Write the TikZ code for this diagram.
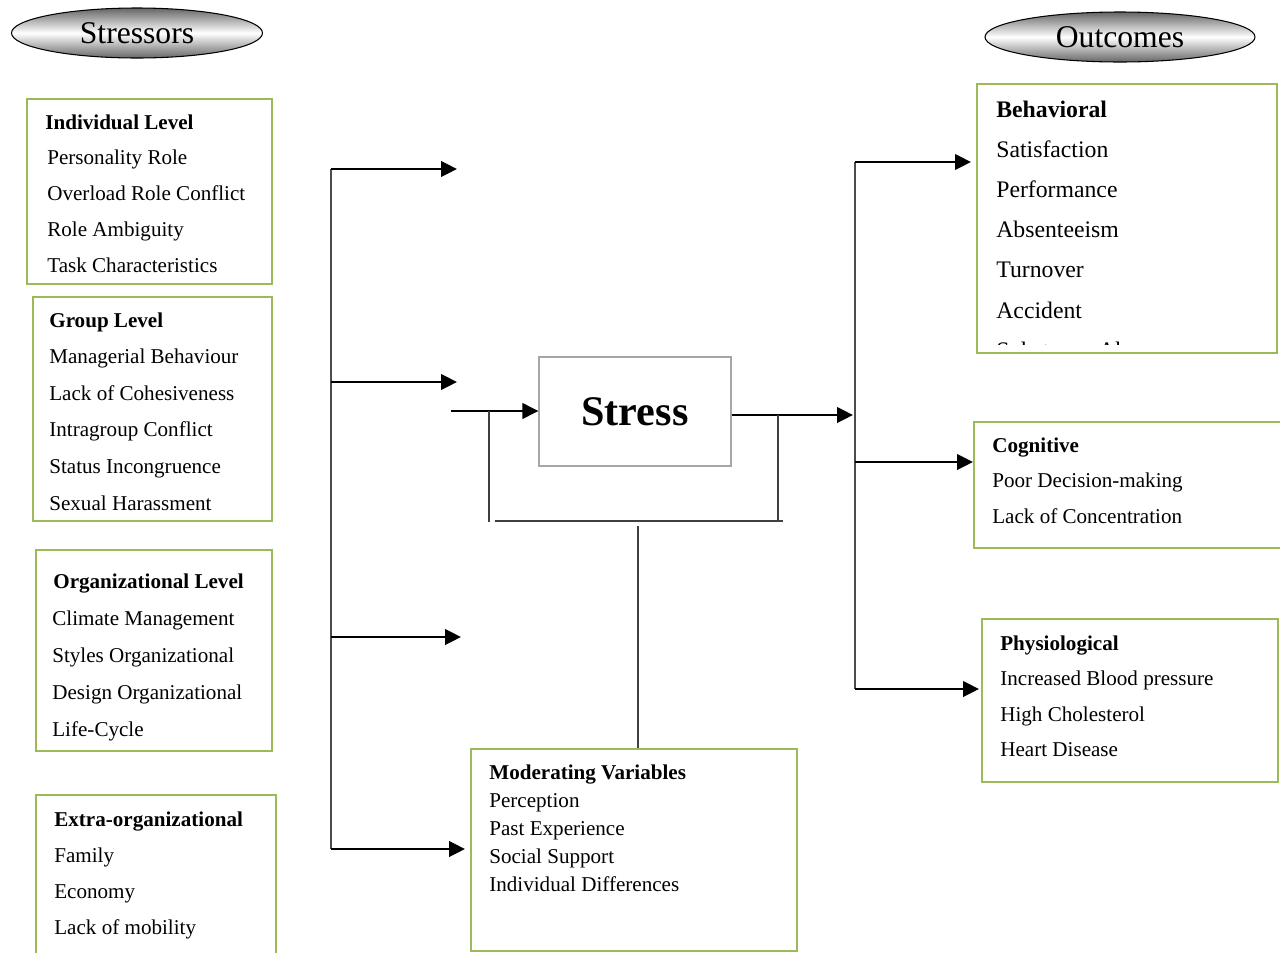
\documentclass[tikz,border=0pt]{standalone}
\usepackage{fontspec}
\setmainfont{Liberation Serif}
\usetikzlibrary{arrows.meta,shapes.geometric}

\definecolor{boxgreen}{RGB}{155,187,89}

\tikzset{
  lvlbox/.style={draw=boxgreen, line width=0.8pt, inner sep=0pt},
  head/.style={anchor=base west, inner sep=0pt, font=\fontsize{12}{14}\selectfont\bfseries},
  item/.style={anchor=base west, inner sep=0pt, font=\fontsize{12}{14}\selectfont},
  bighead/.style={head, font=\fontsize{13.5}{16}\selectfont\bfseries},
  bigitem/.style={item, font=\fontsize{13.5}{16}\selectfont},
  arr/.style={line width=1.5pt, -{Triangle[length=3.2mm,width=3.1mm]}},
  bus/.style={draw=black!70, line width=0.7pt},
  fb/.style={draw=black!75, line width=0.6pt},
  pill/.style={ellipse, draw=black, line width=0.6pt, top color=black!60,
    bottom color=black!60, middle color=white, inner sep=0pt,
    font=\fontsize{18}{20}\selectfont},
}

\begin{document}
\begin{tikzpicture}[x=0.2mm, y=-0.2mm]
  \useasboundingbox (0,0) rectangle (1280,952);
  \clip (0,0) rectangle (1280,952);

  % titles
  \node[pill, minimum width=50.2mm, minimum height=10mm] (stressors) at (137,33) {Stressors};
  \node[pill, minimum width=54mm, minimum height=10mm] (outcomes) at (1120,37) {Outcomes};

  % stressor boxes
  \node[lvlbox, minimum width=49mm, minimum height=37mm] (indiv) at (149.5,191.5) {};
  \node[lvlbox, minimum width=47.8mm, minimum height=44.8mm] (group) at (152.5,409) {};
  \node[lvlbox, minimum width=47.2mm, minimum height=40.2mm] (org) at (154,650.5) {};
  \node[lvlbox, minimum width=48mm, minimum height=35mm] (extra) at (156,882.5) {};

  \node[head] (indivh) at (45,129) {Individual Level};
  \foreach \t [count=\i] in {Personality Role, Overload Role Conflict, Role Ambiguity, Task Characteristics}
    \node[item] (indiv\i) at (47,129+35.8*\i) {\t};

  \node[head] (grouph) at (49,327) {Group Level};
  \foreach \t [count=\i] in {Managerial Behaviour, Lack of Cohesiveness, Intragroup Conflict, Status Incongruence, Sexual Harassment}
    \node[item] (group\i) at (49,327+36.6*\i) {\t};

  \node[head] (orgh) at (53,588) {Organizational Level};
  \foreach \t [count=\i] in {Climate Management, Styles Organizational, Design Organizational, Life-Cycle}
    \node[item] (org\i) at (52,588+37*\i) {\t};

  \node[head] (extrah) at (54,826) {Extra-organizational};
  \foreach \t [count=\i] in {Family, Economy, Lack of mobility}
    \node[item] (extra\i) at (54,826+36*\i) {\t};

  % centre
  \node[draw=black!35, line width=0.7pt, minimum width=38.4mm, minimum height=21.8mm,
    font=\fontsize{24}{28}\selectfont\bfseries] (stress) at (635,411.5) {Stress};

  \node[lvlbox, minimum width=65.2mm, minimum height=40.4mm] (mod) at (634,850) {};
  \node[head] (modh) at (489,779) {Moderating Variables};
  \foreach \t [count=\i] in {Perception, Past Experience, Social Support, Individual Differences}
    \node[item] (mod\i) at (489,779+28.2*\i) {\t};

  % outcome boxes
  \node[lvlbox, minimum width=60mm, minimum height=53.8mm] (behav) at (1127,218.5) {};
  \node[lvlbox, minimum width=63.2mm, minimum height=25.2mm] (cogn) at (1132,485) {};
  \node[lvlbox, minimum width=59.2mm, minimum height=32.6mm] (phys) at (1130,700.5) {};

  \node[bighead] (behavh) at (996,117) {Behavioral};
  \foreach \t [count=\i] in {Satisfaction, Performance, Absenteeism, Turnover, Accident}
    \node[bigitem] (behav\i) at (996,117+40.2*\i) {\t};
  \begin{scope}
    \clip (977,84) rectangle (1277,344);
    \node[bigitem] (behav6) at (996,358) {Substance Abuse};
  \end{scope}

  \node[head] (cognh) at (992,452) {Cognitive};
  \foreach \t [count=\i] in {Poor Decision-making, Lack of Concentration}
    \node[item] (cogn\i) at (992,452+35.5*\i) {\t};

  \node[head] (physh) at (1000,650) {Physiological};
  \foreach \t [count=\i] in {Increased Blood pressure, High Cholesterol, Heart Disease}
    \node[item] (phys\i) at (1000,650+35.5*\i) {\t};

  % left bus and arrows
  \coordinate (l1) at (331,169);
  \coordinate (l2) at (331,382);
  \coordinate (l3) at (331,637);
  \coordinate (l4) at (331,849);
  \coordinate (a1) at (457,169);
  \coordinate (a2) at (457,382);
  \coordinate (a3) at (461,637);
  \coordinate (a4) at (465,849);
  \draw[bus] (l1) -- (l4);
  \foreach \i in {1,...,4}
    \draw[arr] (l\i) -- (a\i);

  % into and out of stress
  \coordinate (in) at (451,411);
  \draw[arr] (in) -- (in -| stress.west);
  \coordinate (out) at (853,415);
  \draw[arr] (stress.east |- out) -- (out);

  % moderating loop
  \coordinate (fl) at (489,411);
  \coordinate (flb) at (489,522);
  \coordinate (fh1) at (495,521);
  \coordinate (fh2) at (783,521);
  \coordinate (fr) at (778,415);
  \coordinate (frb) at (778,521);
  \coordinate (fm) at (638,526);
  \draw[fb] (fl) -- (flb);
  \draw[fb] (fh1) -- (fh2);
  \draw[fb] (fr) -- (frb);
  \draw[fb] (fm) -- (fm |- mod.north);

  % right bus and arrows
  \coordinate (r1) at (855,162);
  \coordinate (r2) at (855,462);
  \coordinate (r3) at (855,689);
  \coordinate (b1) at (971,162);
  \coordinate (b2) at (973,462);
  \coordinate (b3) at (979,689);
  \draw[bus] (r1) -- (r3);
  \foreach \i in {1,2,3}
    \draw[arr] (r\i) -- (b\i);
\end{tikzpicture}
\end{document}
